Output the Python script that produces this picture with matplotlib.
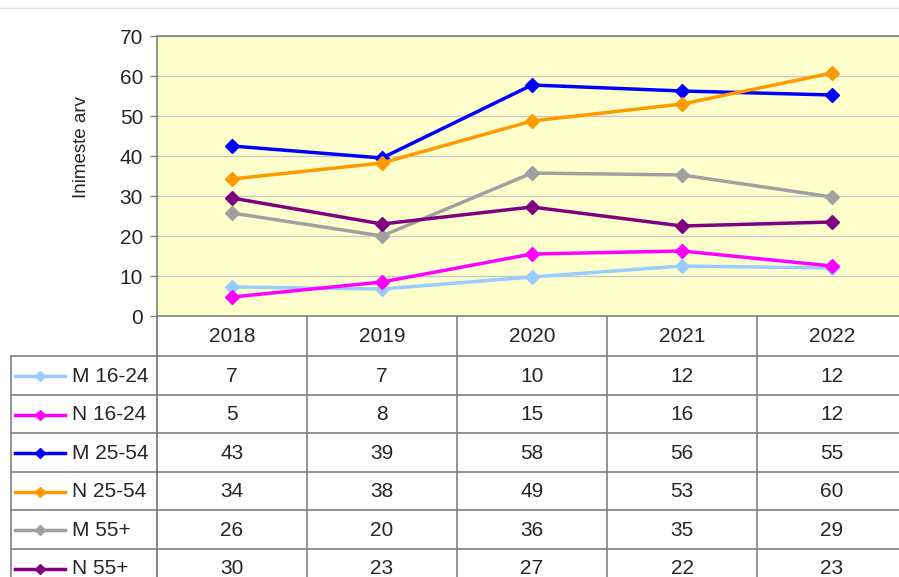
import matplotlib
matplotlib.use("Agg")
import matplotlib.pyplot as plt
from matplotlib.lines import Line2D

plt.rcParams['font.family'] = ['Liberation Sans', 'DejaVu Sans']

# ---- data ----
years = ["2018", "2019", "2020", "2021", "2022"]
series_names = ["M 16-24", "N 16-24", "M 25-54", "N 25-54", "M 55+", "N 55+"]
m_16_24 = [7.25, 6.75, 9.75, 12.5, 12.0]
n_16_24 = [4.75, 8.5, 15.5, 16.25, 12.5]
m_25_54 = [42.5, 39.5, 57.75, 56.25, 55.25]
n_25_54 = [34.25, 38.25, 48.75, 53.0, 60.75]
m_55 = [25.75, 20.0, 35.75, 35.25, 29.75]
n_55 = [29.5, 23.0, 27.25, 22.5, 23.5]
table_m_16_24 = [7, 7, 10, 12, 12]
table_n_16_24 = [5, 8, 15, 16, 12]
table_m_25_54 = [43, 39, 58, 56, 55]
table_n_25_54 = [34, 38, 49, 53, 60]
table_m_55 = [26, 20, 36, 35, 29]
table_n_55 = [30, 23, 27, 22, 23]
y_ticks = [0, 10, 20, 30, 40, 50, 60, 70]
y_label = "Inimeste arv"

series_values = [m_16_24, n_16_24, m_25_54, n_25_54, m_55, n_55]
table_values = [table_m_16_24, table_n_16_24, table_m_25_54,
                table_n_25_54, table_m_55, table_n_55]
colors = ['#99CCFF', '#FF00FF', '#0000FF', '#FF9900', '#A0A0A0', '#800080']

W, H = 899, 577
fig = plt.figure(figsize=(W / 100, H / 100), dpi=100)
FS = 15
TXT = '#262626'


def rect(x0, y0, x1, y1):
    return [x0 / W, 1 - y1 / H, (x1 - x0) / W, (y1 - y0) / H]


PLOT_L, PLOT_T, PLOT_B = 157, 36, 316
COLW = 150.0


def dx(p):
    return -0.5 + (p - PLOT_L) / COLW


xpos = list(range(len(years)))

# thin top rule
fig.add_artist(Line2D([0, 1], [1 - 8 / H, 1 - 8 / H], color='#E4E4E4', lw=1))

ax = fig.add_axes(rect(PLOT_L, PLOT_T, W, PLOT_B))
ax.set_facecolor('#FFFFCC')
ax.set_xlim(dx(PLOT_L), dx(W))
ax.set_ylim(y_ticks[0], y_ticks[-1])
ax.set_yticks(y_ticks)
ax.set_xticks([])
ax.yaxis.grid(True, color='#C8C8C8', lw=1)
ax.set_axisbelow(True)
for s in ['left', 'top', 'bottom']:
    ax.spines[s].set_color('#808080')
    ax.spines[s].set_linewidth(1.2)
ax.spines['right'].set_visible(False)
ax.tick_params(axis='y', direction='out', length=5, width=1, color='#808080',
               labelsize=FS, pad=5, labelcolor=TXT)

for vals, c in zip(series_values, colors):
    ax.plot(xpos, vals, color=c, lw=2.5, marker='D', markersize=7,
            markeredgecolor=c, markerfacecolor=c, clip_on=False)

fig.text(81 / W, 1 - 147 / H, y_label, rotation=90, ha='center', va='center',
         fontsize=13.5, color=TXT)

# ---- data table ----
tax = fig.add_axes(rect(0, PLOT_B, W, H))
tax.set_xlim(dx(0), dx(W))
tax.set_ylim(H, PLOT_B)
tax.axis('off')

HEAD_B = 356
ROW_H = 38.5
TABLE_L = 11
nrows = len(series_names)
grid_c = '#808080'

for i in range(nrows + 1):
    y = HEAD_B + i * ROW_H
    tax.plot([dx(TABLE_L), dx(W)], [y, y], color=grid_c, lw=1.2)
tax.plot([dx(TABLE_L)] * 2, [HEAD_B, H + 40], color=grid_c, lw=1.2)
for k in range(len(years) + 1):
    xv = k - 0.5
    tax.plot([xv, xv], [PLOT_B, H + 40], color=grid_c if k else '#707070', lw=1.2)

for k, yr in enumerate(years):
    tax.text(k, (PLOT_B + HEAD_B) / 2 + 1, yr, ha='center', va='center',
             fontsize=FS, color=TXT)

for i, (name, c, tv) in enumerate(zip(series_names, colors, table_values)):
    yc = HEAD_B + (i + 0.5) * ROW_H + 1
    tax.plot([dx(15), dx(65)], [yc, yc], color=c, lw=2.5)
    tax.plot([dx(40)], [yc], marker='D', markersize=5.5, color=c)
    tax.text(dx(72), yc, name, ha='left', va='center', fontsize=FS,
             color=TXT)
    for k, v in enumerate(tv):
        tax.text(k, yc, str(v), ha='center', va='center', fontsize=FS,
                 color=TXT)

fig.savefig('out.png', dpi=100)
